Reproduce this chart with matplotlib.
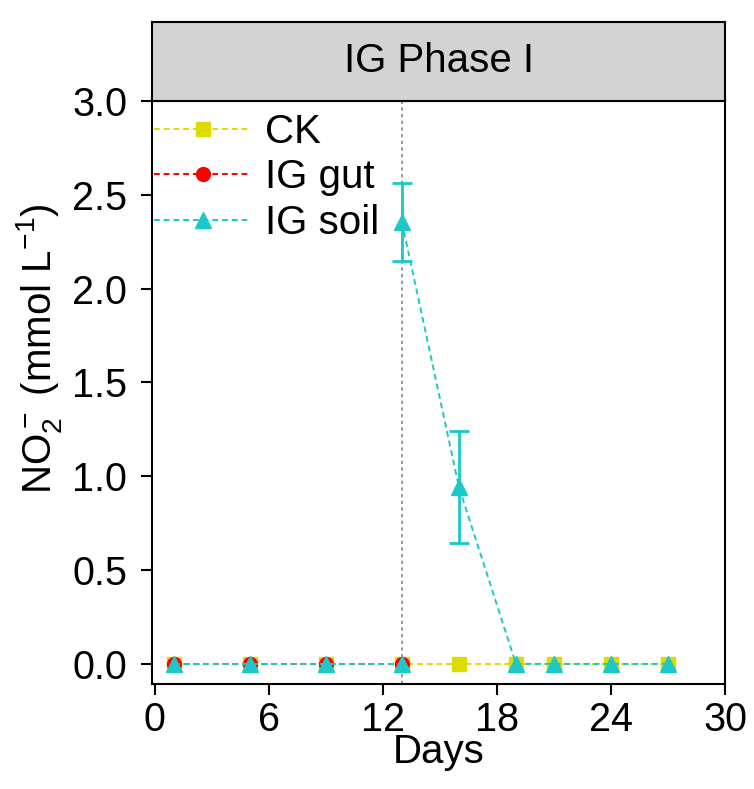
import matplotlib
matplotlib.use("Agg")
import matplotlib.pyplot as plt
from matplotlib.lines import Line2D

plt.rcParams['font.family'] = ['Liberation Sans', 'DejaVu Sans']
plt.rcParams['mathtext.fontset'] = 'custom'
plt.rcParams['mathtext.rm'] = 'Liberation Sans'
plt.rcParams['mathtext.it'] = 'Liberation Sans:italic'
plt.rcParams['mathtext.default'] = 'regular'

# Data
ck_days = [1, 5, 9, 13, 16, 19, 21, 24, 27]
ck_vals = [0, 0, 0, 0, 0, 0, 0, 0, 0]
gut_days = [1, 5, 9, 13]
gut_vals = [0, 0, 0, 0]
soil_days_a = [1, 5, 9, 13]
soil_vals_a = [0, 0, 0, 0]
soil_days_b = [13, 16, 19, 21, 24, 27]
soil_vals_b = [2.355, 0.943, 0, 0, 0, 0]
soil_err_b = [0.21, 0.30, 0, 0, 0, 0]
xticks = [0, 6, 12, 18, 24, 30]
yticks = [0.0, 0.5, 1.0, 1.5, 2.0, 2.5, 3.0]
vline_day = 13

c_ck = '#DCDC00'
c_gut = '#FF0000'
c_soil = '#1CC8C8'
dash = (0, (3, 2))
lw = 1.4

fig = plt.figure(figsize=(7.54, 7.89), dpi=100)
ax = fig.add_axes([152/754, 1-684/789, (725-152)/754, (684-101)/789])

ax.axvline(vline_day, color='#888888', ls=(0, (2, 2)), lw=1.2, zorder=1)

ax.plot(ck_days, ck_vals, ls=dash, lw=lw, color=c_ck, marker='s', ms=10, zorder=3)
ax.plot(gut_days, gut_vals, ls=dash, lw=lw, color=c_gut, marker='o', ms=10, zorder=4)
ax.plot(soil_days_a, soil_vals_a, ls=dash, lw=lw, color=c_soil, marker='^', ms=12, zorder=5)
ax.errorbar(soil_days_b, soil_vals_b,
            yerr=[e if e > 0 else float('nan') for e in soil_err_b],
            ls=dash, lw=lw, color=c_soil, marker='^', ms=12,
            elinewidth=2, capsize=7, capthick=2, zorder=5)

ax.set_xlim(-0.15, 29.95)
ax.set_ylim(-0.107, 3.0)
ax.set_xticks(xticks)
ax.set_yticks(yticks)
ax.set_yticklabels([f'{v:.1f}' for v in yticks])
ax.tick_params(axis='both', direction='out', length=8, width=1.5, labelsize=28.5, color='black', pad=4)
ax.tick_params(axis='y', pad=10)
for s in ax.spines.values():
    s.set_linewidth(1.5)
ax.set_xlabel('Days', fontsize=29, labelpad=-4)
ax.set_ylabel('NO$_2^-$ (mmol L$^{-1}$)', fontsize=29)
ax.yaxis.set_label_coords(-0.154, 0.575)

handles = [
    Line2D([], [], ls=dash, lw=lw, color=c_ck, marker='s', ms=10),
    Line2D([], [], ls=dash, lw=lw, color=c_gut, marker='o', ms=10),
    Line2D([], [], ls=dash, lw=lw, color=c_soil, marker='^', ms=12),
]
labels = ['CK', 'IG gut', 'IG soil']
ax.legend(handles, labels, loc='upper left', frameon=False, fontsize=29, handlelength=2.4,
          handletextpad=0.35, borderaxespad=0.0, borderpad=0.1, labelspacing=0.18,
          bbox_to_anchor=(-0.003, 0.986))

# Facet strip
strip = fig.add_axes([152/754, 1-101/789, (725-152)/754, (101-22)/789])
strip.set_xticks([])
strip.set_yticks([])
strip.set_facecolor('#D3D3D3')
for s in strip.spines.values():
    s.set_linewidth(1.5)
strip.text(0.5, 0.5, 'IG Phase I', ha='center', va='center', fontsize=29, transform=strip.transAxes)

fig.savefig('out.png', dpi=100)
